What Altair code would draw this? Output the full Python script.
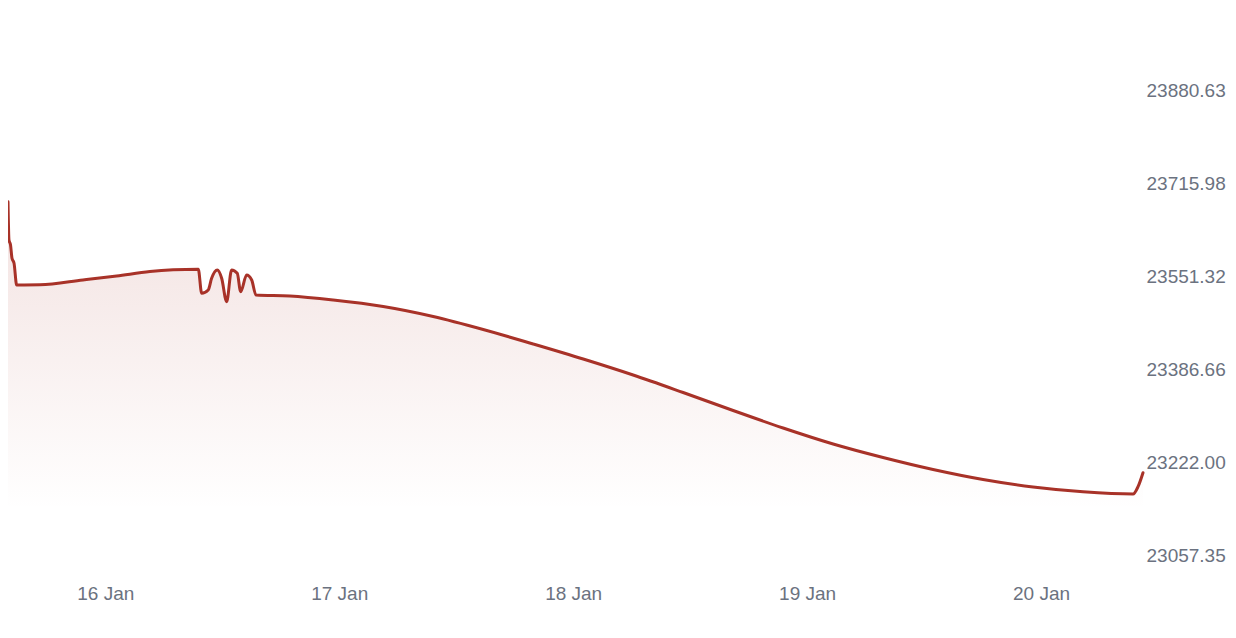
import altair as alt
import pandas as pd

# hours relative to 16 Jan 00:00
hours = [-9.98, -9.88, -9.72, -9.57, -9.36, -9.09, -6.70, -2.29, 1.17, 4.58,
         6.97, 9.54, 9.89, 10.56, 10.91, 11.49, 11.94, 12.45, 12.96, 13.54,
         13.89, 14.50, 15.02, 15.46, 18.94, 23.38, 28.51, 33.64, 38.77, 43.90,
         49.03, 54.15, 59.28, 64.41, 69.54, 74.67, 79.79, 84.92, 90.05, 95.18,
         100.31, 105.44, 105.95, 106.46]
prices = [23683.50, 23615.75, 23606.91, 23583.39, 23574.54, 23536.16, 23536.50, 23545.00, 23552.08, 23560.04,
          23563.04, 23564.11, 23521.48, 23527.32, 23548.01, 23562.69, 23548.01, 23506.62, 23562.69, 23556.85,
          23524.31, 23553.85, 23545.00, 23518.47, 23516.70, 23509.63, 23498.13, 23480.44, 23457.45, 23431.80,
          23405.27, 23376.97, 23346.01, 23314.18, 23283.22, 23254.92, 23231.04, 23209.82, 23192.13, 23178.87,
          23170.38, 23166.48, 23179.40, 23204.16]

y_ticks = [23057.35, 23222.00, 23386.66, 23551.32, 23715.98, 23880.63]
x_ticks = [0, 24, 48, 72, 96]
x_labels = ["16 Jan", "17 Jan", "18 Jan", "19 Jan", "20 Jan"]

df = pd.DataFrame({"h": hours, "price": prices})

LINE = "#a83228"
FONT = "Liberation Sans"
TXT = "#6b7280"

label_expr = "[" + ",".join(f"'{s}'" for s in x_labels) + "][round(datum.value/24)]"

x = alt.X("h:Q",
          scale=alt.Scale(domain=[-9.98, 106.46], nice=False, zero=False),
          axis=alt.Axis(values=x_ticks, labelExpr=label_expr, title=None, grid=False,
                        domain=False, ticks=False, tickSize=0, labelPadding=14,
                        labelFont=FONT, labelFontSize=19, labelColor=TXT))
y = alt.Y("price:Q",
          scale=alt.Scale(domain=[23032.06, 24004.89], nice=False, zero=False),
          axis=alt.Axis(orient="right", values=y_ticks, format=".2f", title=None, grid=False,
                        domain=False, ticks=False, tickSize=0, labelPadding=3,
                        labelFont=FONT, labelFontSize=19, labelColor=TXT,
                        labelBaseline="middle", labelAlign="left"))

area = alt.Chart(df).mark_area(
    interpolate="monotone",
    color=alt.Gradient(
        gradient="linear",
        stops=[alt.GradientStop(color="rgba(168,50,40,0.14)", offset=0),
               alt.GradientStop(color="rgba(168,50,40,0)", offset=1)],
        x1=0, x2=0, y1=0, y2=1,
    ),
).encode(x=x, y=y, y2=alt.datum(23138.0))

line = alt.Chart(df).mark_line(interpolate="monotone", color=LINE, strokeWidth=3,
                               strokeJoin="round", strokeCap="round").encode(x=x, y=y)

chart = (area + line).properties(
    width=1135, height=550,
    padding={"left": 0, "top": 12, "right": 84, "bottom": 40},
    autosize=alt.AutoSizeParams(type="none"),
    background="white",
).configure_view(stroke=None)

chart.save("out.html", embed_options={"renderer": "svg", "actions": False})
